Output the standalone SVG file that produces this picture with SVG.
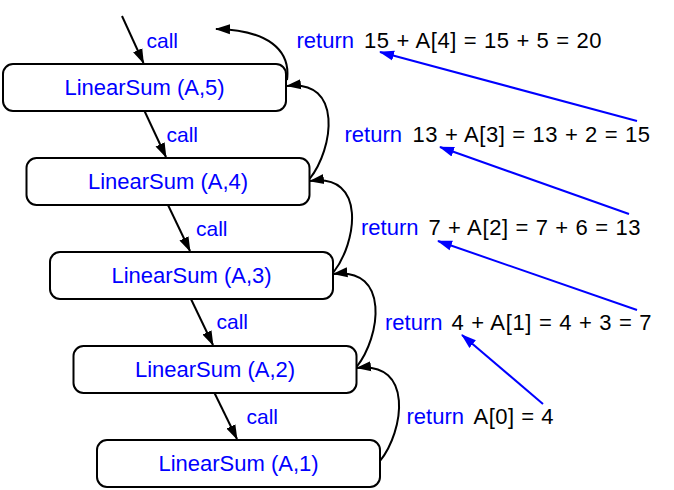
<svg xmlns="http://www.w3.org/2000/svg" width="674" height="490" viewBox="0 0 674 490">
<defs>
<marker id="ah" markerUnits="userSpaceOnUse" markerWidth="15" markerHeight="11" refX="14" refY="5.5" orient="auto"><path d="M0,0.5 L15,5.5 L0,10.5 z" fill="#000"/></marker>
<marker id="ab" markerUnits="userSpaceOnUse" markerWidth="15" markerHeight="11" refX="14" refY="5.5" orient="auto"><path d="M0,0.5 L15,5.5 L0,10.5 z" fill="#0000FF"/></marker>
<style>
.box{fill:#fff;stroke:#000;stroke-width:2}
.lbl{font-family:"Liberation Sans",Arial,sans-serif;font-size:22px;fill:#0000FF}
.call{font-family:"Liberation Sans",Arial,sans-serif;font-size:21px;fill:#0000FF}
.ret{font-family:"Liberation Sans",Arial,sans-serif;font-size:22px;fill:#0000FF}
.ex{font-family:"Liberation Sans",Arial,sans-serif;font-size:22px;fill:#000}
.k{fill:none;stroke:#000;stroke-width:2;marker-end:url(#ah)}
.b{fill:none;stroke:#0000FF;stroke-width:2;marker-end:url(#ab)}
</style>
</defs>
<rect width="674" height="490" fill="#fff"/>
<g id="connectors">
<path class="k" d="M122,16 L143.5,63"/>
<path class="k" d="M144.5,111 L166,157"/>
<path class="k" d="M168,205 L190,251"/>
<path class="k" d="M190,297 L213,345"/>
<path class="k" d="M214,392 L237,439"/>
<path class="k" d="M380,461 C404,431 414,361 357,368"/>
<path class="k" d="M356.5,367 C380.5,337 390.5,267 333.5,274"/>
<path class="k" d="M333,273 C357,243 367,173 310,181"/>
<path class="k" d="M309.5,179 C333.5,149 343.5,79 287,86"/>
<path class="k" d="M287,80 C291,50 268,30 216,29"/>
<path class="b" d="M637,121 L380,52"/>
<path class="b" d="M629,214 L440,147"/>
<path class="b" d="M637,310 L438,241"/>
<path class="b" d="M543,404 L462,335"/>
</g>
<g id="n5"><rect class="box" x="3" y="64" width="283" height="47" rx="10"/><text class="lbl" x="144.5" y="95" text-anchor="middle">LinearSum (A,5)</text></g>
<g id="n4"><rect class="box" x="26.5" y="158" width="283" height="47" rx="10"/><text class="lbl" x="168" y="189" text-anchor="middle">LinearSum (A,4)</text></g>
<g id="n3"><rect class="box" x="50" y="252" width="283" height="47" rx="10"/><text class="lbl" x="191.5" y="283" text-anchor="middle">LinearSum (A,3)</text></g>
<g id="n2"><rect class="box" x="73.5" y="346" width="283" height="47" rx="10"/><text class="lbl" x="215" y="377" text-anchor="middle">LinearSum (A,2)</text></g>
<g id="n1"><rect class="box" x="97" y="440" width="283" height="47" rx="10"/><text class="lbl" x="238.5" y="471" text-anchor="middle">LinearSum (A,1)</text></g>
<g id="labels">
<text class="call" x="146.5" y="48">call</text>
<text class="call" x="166.5" y="142">call</text>
<text class="call" x="196" y="236">call</text>
<text class="call" x="216.5" y="329">call</text>
<text class="call" x="246.5" y="424">call</text>
<text class="ret" x="296.5" y="48">return</text>
<text class="ex" x="364" y="48" textLength="237.5" lengthAdjust="spacing">15 + A[4] = 15 + 5 = 20</text>
<text class="ret" x="344.5" y="142">return</text>
<text class="ex" x="412.5" y="142" textLength="237.5" lengthAdjust="spacing">13 + A[3] = 13 + 2 = 15</text>
<text class="ret" x="361" y="235">return</text>
<text class="ex" x="428.5" y="235" textLength="212" lengthAdjust="spacing">7 + A[2] = 7 + 6 = 13</text>
<text class="ret" x="385" y="330">return</text>
<text class="ex" x="451.5" y="330" textLength="200" lengthAdjust="spacing">4 + A[1] = 4 + 3 = 7</text>
<text class="ret" x="406.5" y="423.5">return</text>
<text class="ex" x="473.5" y="423.5" textLength="80" lengthAdjust="spacing">A[0] = 4</text>
</g>
</svg>
